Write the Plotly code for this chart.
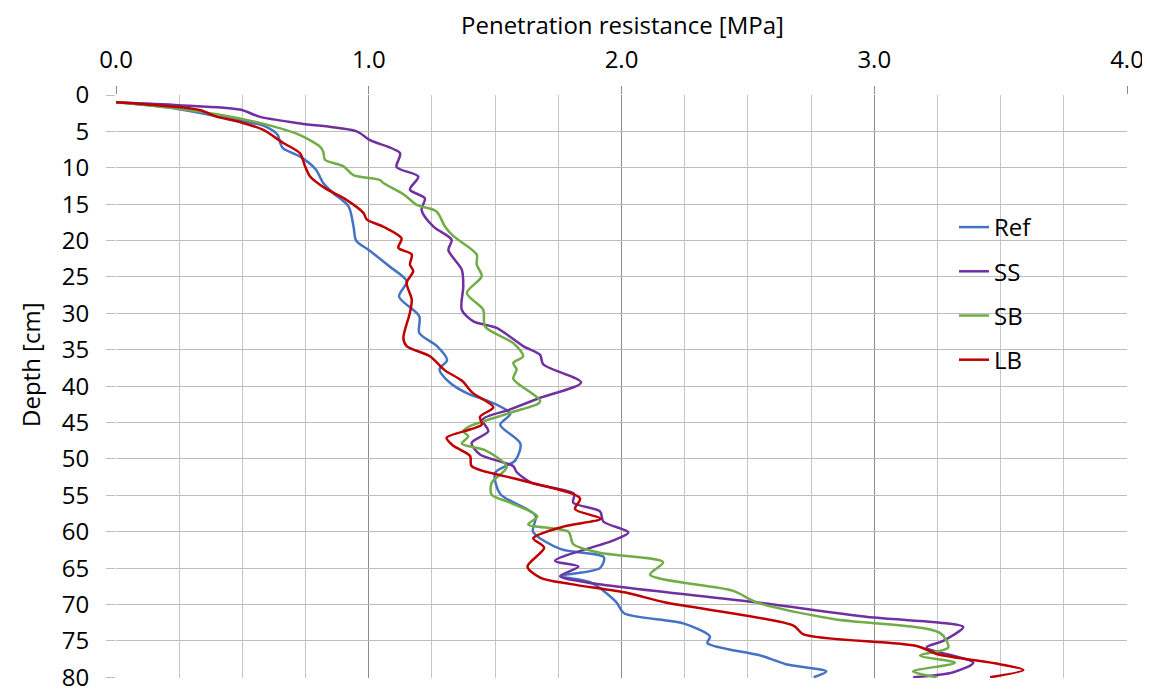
import plotly.graph_objects as go

# ---- data (depth in cm, penetration resistance in MPa) ----
ref_depth = [1, 1.7, 3.0, 4.3, 5.5, 6.6, 7.3, 8.5, 10.2, 12.1, 13.5, 15.3, 18.1, 20.0, 21.3, 23.5, 25.6, 27.7,
             30.4, 32.7, 34.5, 36.4, 37.7, 39.5, 41.0, 42.3, 43.8, 45.3, 47.9, 50.2, 51.9, 54.8, 57.8, 60.0,
             62.4, 63.5, 65.0, 66.1, 67.0, 69.7, 71.2, 72.6, 74.4, 75.3, 77.0, 78.2, 79.2, 80.0]
ref_mpa = [0, 0.20, 0.41, 0.59, 0.64, 0.65, 0.66, 0.73, 0.79, 0.82, 0.86, 0.92, 0.94, 0.95, 1.00, 1.08, 1.15, 1.12,
           1.20, 1.20, 1.27, 1.31, 1.28, 1.32, 1.39, 1.49, 1.56, 1.52, 1.60, 1.58, 1.50, 1.52, 1.66, 1.65,
           1.76, 1.93, 1.915, 1.76, 1.88, 1.98, 2.01, 2.245, 2.35, 2.34, 2.55, 2.65, 2.81, 2.76]

ss_depth = [1, 1.4, 2.0, 3.0, 3.9, 5.0, 6.2, 8.0, 9.9, 11.2, 13.0, 14.2, 15.8, 18.1, 19.9, 21.3, 24.0, 26.3,
            29.5, 31.1, 32.0, 34.5, 35.7, 37.0, 39.5, 41.6, 43.2, 44.6, 46.2, 47.8, 49.4, 51.0, 51.8, 53.3,
            54.8, 56.0, 57.2, 58.6, 60.1, 61.2, 64.0, 64.8, 66.1, 67.0, 69.7, 71.8, 72.5, 73.1, 75.0, 75.9,
            78.0, 79.3, 80.0]
ss_mpa = [0, 0.25, 0.49, 0.57, 0.73, 0.952, 1.005, 1.124, 1.11, 1.196, 1.163, 1.222, 1.209, 1.256, 1.328, 1.315,
          1.368, 1.374, 1.368, 1.414, 1.506, 1.611, 1.678, 1.69, 1.84, 1.678, 1.56, 1.45, 1.473, 1.407, 1.44,
          1.572, 1.585, 1.645, 1.812, 1.809, 1.915, 1.928, 2.027, 1.968, 1.737, 1.83, 1.757, 1.87, 2.535,
          3.0, 3.26, 3.352, 3.273, 3.207, 3.392, 3.313, 3.154]

sb_depth = [1, 1.7, 2.7, 4.1, 5.5, 7.1, 7.8, 8.9, 9.8, 11.0, 11.7, 12.1, 13.7, 15.1, 16.0, 18.1, 19.4, 21.9,
            23.3, 24.9, 27.2, 29.5, 31.8, 34.1, 35.9, 36.8, 37.7, 39.0, 42.1, 43.6, 45.5, 46.2, 46.9, 47.9,
            48.8, 51.1, 53.3, 54.9, 56.0, 57.9, 59.0, 60.0, 61.7, 62.9, 64.2, 65.9, 68.1, 69.7, 72.0, 73.9,
            75.9, 77.0, 78.0, 79.2, 80.0]
sb_mpa = [0, 0.20, 0.41, 0.60, 0.728, 0.807, 0.82, 0.827, 0.9, 0.939, 1.045, 1.058, 1.14, 1.19, 1.268, 1.302,
          1.335, 1.427, 1.427, 1.447, 1.388, 1.453, 1.46, 1.572, 1.611, 1.572, 1.585, 1.572, 1.678, 1.565,
          1.40, 1.374, 1.394, 1.368, 1.46, 1.546, 1.486, 1.486, 1.559, 1.667, 1.631, 1.79, 1.809, 1.915,
          2.165, 2.113, 2.44, 2.535, 2.838, 3.26, 3.293, 3.181, 3.319, 3.154, 3.247]

lb_depth = [1, 2.06, 3.0, 3.7, 4.8, 6.6, 8.0, 9.8, 11.2, 12.8, 14.3, 16.2, 17.1, 18.1, 19.7, 21.0, 21.9, 23.3,
            24.2, 25.8, 28.1, 29.9, 33.4, 34.5, 35.9, 37.8, 39.3, 40.9, 42.9, 44.2, 45.3, 47.1, 48.2, 49.6,
            51.0, 52.9, 55.4, 56.9, 58.2, 59.3, 60.9, 62.2, 64.8, 66.3, 67.2, 68.4, 69.7, 72.9, 74.1, 75.7,
            76.8, 78.2, 79.0, 80.0]
lb_mpa = [0, 0.33, 0.40, 0.49, 0.583, 0.662, 0.728, 0.748, 0.768, 0.827, 0.907, 0.979, 0.992, 1.058, 1.13, 1.117,
          1.17, 1.163, 1.176, 1.15, 1.17, 1.163, 1.137, 1.15, 1.242, 1.30, 1.37, 1.41, 1.493, 1.44, 1.447,
          1.308, 1.335, 1.401, 1.407, 1.60, 1.836, 1.816, 1.918, 1.77, 1.651, 1.694, 1.628, 1.678, 1.80,
          2.02, 2.17, 2.68, 2.72, 3.168, 3.247, 3.497, 3.59, 3.458]

series_names = ["Ref", "SS", "SB", "LB"]
series_colors = ["#4472C4", "#7030A0", "#70AD47", "#C00000"]

x_ticks = [0, 1, 2, 3, 4]
x_ticklabels = ["0.0", "1.0", "2.0", "3.0", "4.0"]
y_ticks = list(range(0, 81, 5))

FONT = "'Open Sans', Lato, sans-serif"
FS = 24

fig = go.Figure()
data = [(ref_mpa, ref_depth), (ss_mpa, ss_depth), (sb_mpa, sb_depth), (lb_mpa, lb_depth)]
for name, color, (xv, yv) in zip(series_names, series_colors, data):
    fig.add_trace(go.Scatter(
        x=xv, y=yv, mode="lines", name=name, legendgroup=name,
        line=dict(color=color, width=2.5, shape="spline", smoothing=0.8),
    ))

# page body has an 8px margin: figure is placed at (8, 8) in the window
OFF = 8
W, H = 1150 - OFF, 689 - OFF
L, R, T, B = 116 - OFF, 23, 95 - OFF, 11
plot_h = H - T - B
plot_w = W - L - R


def px_x(p):
    return (p - OFF - L) / plot_w


def px_y(p):
    return (H - B - (p - OFF)) / plot_h


fig.update_layout(
    width=W, height=H,
    margin=dict(l=L, r=R, t=T, b=B, autoexpand=False),
    paper_bgcolor="white", plot_bgcolor="white",
    font=dict(family=FONT, size=FS, color="#000000"),
    showlegend=True,
    legend=dict(
        x=px_x(954), y=px_y(205), xanchor="left", yanchor="top",
        bgcolor="rgba(0,0,0,0)", font=dict(family=FONT, size=FS, color="#000000"),
        tracegroupgap=10, itemwidth=30,
    ),
    xaxis=dict(
        side="top", range=[0, 4], tickvals=x_ticks, ticktext=x_ticklabels,
        showgrid=True, gridcolor="#8c8c8c", gridwidth=1.2,
        ticks="outside", ticklen=8, tickcolor="#8c8c8c", tickwidth=1,
        ticklabelstandoff=8, ticklabeloverflow="allow",
        minor=dict(dtick=0.25, showgrid=True, gridcolor="#c6c6c6", gridwidth=1.2, ticks=""),
        zeroline=False, showline=False, fixedrange=True,
        tickfont=dict(family=FONT, size=FS),
    ),
    yaxis=dict(
        range=[80.1, 0], tickvals=y_ticks,
        showgrid=True, gridcolor="#bdbdbd", gridwidth=1.2,
        ticks="outside", ticklen=9, tickcolor="#bdbdbd", tickwidth=1,
        ticklabelstandoff=12, ticklabeloverflow="allow",
        zeroline=False, showline=False, fixedrange=True,
        tickfont=dict(family=FONT, size=FS),
    ),
    annotations=[
        dict(text="Penetration resistance [MPa]", xref="paper", yref="paper",
             x=px_x(622), y=px_y(24.5), xanchor="center", yanchor="middle",
             showarrow=False, font=dict(family=FONT, size=FS)),
        dict(text="Depth [cm]", xref="paper", yref="paper", textangle=-90,
             x=px_x(30), y=px_y(365), xanchor="center", yanchor="middle",
             showarrow=False, font=dict(family=FONT, size=FS)),
    ],
)

fig.write_html("out.html")
